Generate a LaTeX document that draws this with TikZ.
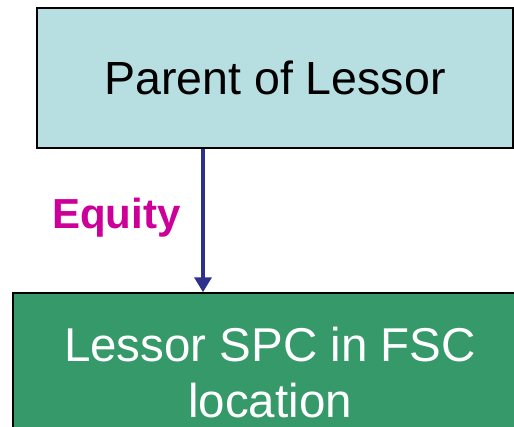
\documentclass[tikz,border=0pt]{standalone}
\usepackage{fontspec}
\setmainfont{Liberation Sans}
\usetikzlibrary{positioning,arrows.meta}

\begin{document}
\begin{tikzpicture}[x=1pt,y=-1pt]
    % Define colors
    \definecolor{parentfill}{RGB}{183, 222, 225}
    \definecolor{spcfill}{RGB}{54, 153, 106}
    \definecolor{equityarrow}{RGB}{46, 49, 140}
    \definecolor{equitytext}{RGB}{204, 0, 153}

    % Frame
    \useasboundingbox (0,0) rectangle (514,426);
    \clip (0,0) rectangle (514,426);

    % Parent box
    \node[draw=black, line width=1.5pt, fill=parentfill, minimum width=476pt, minimum height=140pt, inner sep=0pt, font=\fontsize{46.5}{52}\selectfont] (parent) at (275, 78) {Parent of Lessor};

    % Lessor SPC box
    \node[draw=black, line width=1.5pt, fill=spcfill, text=white, minimum width=514pt, minimum height=160pt, align=center, font=\fontsize{47.5}{56}\selectfont] (spc) at (270, 373) {Lessor SPC in FSC\\location};

    % Equity arrow
    \coordinate (eqx) at (203, 0);
    \draw[equityarrow, line width=3.5pt, -{Triangle[length=15pt, width=17pt]}] (parent.south -| eqx) -- (spc.north -| eqx);
    \node[anchor=base east, font=\fontsize{42}{50}\selectfont\bfseries, equitytext] (equity) at (184, 228) {Equity};
\end{tikzpicture}
\end{document}
